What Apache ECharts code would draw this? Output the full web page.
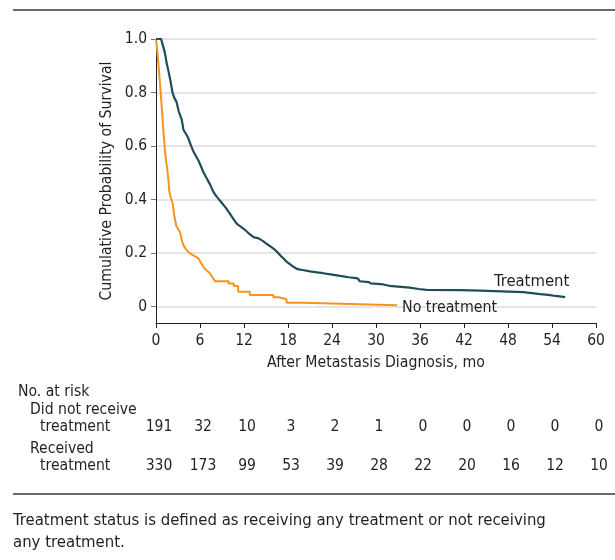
<!DOCTYPE html>
<html>
<head>
<meta charset="utf-8">
<script src="https://cdn.jsdelivr.net/npm/echarts@6/dist/echarts.min.js"></script>
<style>
  html, body { margin: 0; padding: 0; background: #fff; }
  #chart { width: 615px; height: 560px; }
</style>
</head>
<body>
<div id="chart"></div>
<script>
// survival curves (months, probability)
// repeated times are the corners of visible steps
var treatTime = [0, 0.7, 0.9, 1.2, 1.45, 1.7, 2.0, 2.25, 2.5, 2.8, 3.1, 3.5, 3.75, 4.1, 4.4, 4.8, 5.1, 5.5, 5.8, 6.2, 6.5, 7.0, 7.4, 7.8, 8.3, 8.9, 9.5, 10.0, 10.5, 11.0, 11.5, 12.0, 12.6, 13.3, 14.0, 14.6, 15.1, 15.6, 16.1, 16.5, 17.0, 17.4, 17.8, 18.3, 18.8, 19.3, 20.0, 21.0, 22.0, 22.8, 24.0, 25.1, 26.3, 27.5, 27.8, 29.0, 29.3, 31.0, 31.8, 33.0, 34.6, 35.8, 36.9, 41.5, 44.2, 44.4, 50.1, 50.3, 52.4, 53.5, 54.5, 55.8]
var treatSurv = [1, 1, 0.98, 0.95, 0.91, 0.88, 0.84, 0.80, 0.78, 0.765, 0.73, 0.70, 0.66, 0.645, 0.63, 0.60, 0.58, 0.56, 0.545, 0.52, 0.50, 0.475, 0.455, 0.43, 0.41, 0.39, 0.37, 0.35, 0.33, 0.31, 0.30, 0.29, 0.275, 0.26, 0.255, 0.245, 0.235, 0.225, 0.215, 0.205, 0.19, 0.18, 0.168, 0.158, 0.148, 0.14, 0.137, 0.132, 0.128, 0.125, 0.12, 0.115, 0.11, 0.106, 0.095, 0.092, 0.087, 0.083, 0.078, 0.075, 0.071, 0.066, 0.063, 0.062, 0.06, 0.055, 0.054, 0.05, 0.047, 0.044, 0.04, 0.036]

var noTreatTime = [0, 0.15, 0.32, 0.5, 0.68, 0.85, 1.0, 1.12, 1.23, 1.4, 1.55, 1.7, 1.82, 2.0, 2.27, 2.5, 2.73, 3.0, 3.27, 3.5, 3.73, 4.2, 4.64, 5.2, 5.77, 6.1, 6.45, 6.9, 7.36, 7.7, 8.05, 9.9, 9.9, 10.6, 10.6, 11.2, 11.2, 12.8, 12.8, 16.0, 16.0, 16.7, 16.7, 17.8, 17.8, 20.1, 20.1, 27.8, 27.8, 32.9]
var noTreatSurv = [1, 0.96, 0.91, 0.85, 0.784, 0.72, 0.66, 0.62, 0.58, 0.54, 0.51, 0.47, 0.43, 0.41, 0.386, 0.34, 0.305, 0.29, 0.28, 0.25, 0.23, 0.21, 0.199, 0.19, 0.181, 0.165, 0.149, 0.135, 0.125, 0.11, 0.095, 0.095, 0.087, 0.087, 0.077, 0.077, 0.056, 0.056, 0.044, 0.044, 0.035, 0.035, 0.028, 0.028, 0.015, 0.015, 0.009, 0.009, 0.005, 0.005]

// x ticks and numbers at risk
var months = [0, 6, 12, 18, 24, 30, 36, 42, 48, 54, 60]
var yTicks = [0, 0.2, 0.4, 0.6, 0.8, 1.0]
var riskNoTreat = [191, 32, 10, 3, 2, 1, 0, 0, 0, 0, 0]
var riskTreat = [330, 173, 99, 53, 39, 28, 22, 20, 16, 12, 10]

var FONT = "'DejaVu Sans Condensed', 'Liberation Sans', sans-serif"
var TEXT = '#231f20'
var TEAL = '#1f4d59'
var ORANGE = '#f7941d'

function pairs(xs, ys) {
  return xs.map(function (x, i) { return [x, ys[i]] })
}

var chart = echarts.init(document.getElementById('chart'))

var option = {
  animation: false,
  textStyle: { fontFamily: FONT },
  grid: { left: 156, right: 19, top: 39, bottom: 237 },
  xAxis: {
    type: 'value',
    min: 0,
    max: 60,
    interval: 6,
    name: 'After Metastasis Diagnosis, mo',
    nameLocation: 'middle',
    nameGap: 32,
    nameTextStyle: { fontFamily: FONT, fontSize: 15.7, color: TEXT },
    axisLine: { show: true, onZero: false, lineStyle: { color: '#231f20', width: 1 } },
    axisTick: { show: true, length: 5, lineStyle: { color: '#231f20' } },
    axisLabel: { fontFamily: FONT, fontSize: 15.5, color: TEXT, margin: 10 },
    splitLine: { show: false }
  },
  yAxis: {
    type: 'value',
    min: -0.061,
    max: 1,
    axisLine: { show: true, lineStyle: { color: '#231f20', width: 1 } },
    axisTick: { show: true, length: 5, customValues: yTicks, lineStyle: { color: '#777' } },
    axisLabel: {
      customValues: yTicks,
      fontFamily: FONT, fontSize: 15.5, color: TEXT, margin: 9,
      formatter: function (v) { return v === 0 ? '0' : v.toFixed(1) }
    },
    splitLine: { show: true, lineStyle: { color: '#dcdcdc', width: 1.5 } }
  },
  series: [
    {
      name: 'No treatment',
      type: 'line',
      symbol: 'none',
      data: pairs(noTreatTime, noTreatSurv),
      lineStyle: { color: ORANGE, width: 2 }
    },
    {
      name: 'Treatment',
      type: 'line',
      symbol: 'none',
      data: pairs(treatTime, treatSurv),
      lineStyle: { color: TEAL, width: 2.2 }
    }
  ]
}

chart.setOption(option)

// annotations, rules, risk table and caption
var g = [
  { type: 'line', shape: { x1: 13, y1: 10, x2: 615, y2: 10 }, style: { stroke: '#3a3a3a', lineWidth: 1.5 } },
  { type: 'line', shape: { x1: 13, y1: 494, x2: 615, y2: 494 }, style: { stroke: '#3a3a3a', lineWidth: 1.5 } },
  {
    type: 'text', x: 107, y: 181, rotation: Math.PI / 2,
    style: { text: 'Cumulative Probability of Survival', font: '15.7px ' + FONT, fill: TEXT, textAlign: 'center', textVerticalAlign: 'middle' }
  },
  { type: 'text', x: 494, y: 282, style: { text: 'Treatment', font: '16.5px ' + FONT, fill: TEXT, textVerticalAlign: 'middle' } },
  { type: 'text', x: 402, y: 308, style: { text: 'No treatment', font: '15.8px ' + FONT, fill: TEXT, textVerticalAlign: 'middle' } },
  { type: 'text', x: 18, y: 392, style: { text: 'No. at risk', font: '15.6px ' + FONT, fill: TEXT, textVerticalAlign: 'middle' } },
  { type: 'text', x: 30, y: 410, style: { text: 'Did not receive', font: '15.6px ' + FONT, fill: TEXT, textVerticalAlign: 'middle' } },
  { type: 'text', x: 40, y: 427, style: { text: 'treatment', font: '15.6px ' + FONT, fill: TEXT, textVerticalAlign: 'middle' } },
  { type: 'text', x: 30, y: 449, style: { text: 'Received', font: '15.6px ' + FONT, fill: TEXT, textVerticalAlign: 'middle' } },
  { type: 'text', x: 40, y: 466, style: { text: 'treatment', font: '15.6px ' + FONT, fill: TEXT, textVerticalAlign: 'middle' } },
  { type: 'text', x: 13, y: 521, style: { text: 'Treatment status is defined as receiving any treatment or not receiving', font: '16.6px ' + FONT, fill: TEXT, textVerticalAlign: 'middle' } },
  { type: 'text', x: 13, y: 543, style: { text: 'any treatment.', font: '16.6px ' + FONT, fill: TEXT, textVerticalAlign: 'middle' } }
]

months.forEach(function (m, i) {
  var px = chart.convertToPixel({ xAxisIndex: 0 }, m) + 3
  g.push({ type: 'text', x: px, y: 427, style: { text: String(riskNoTreat[i]), font: '15.5px ' + FONT, fill: TEXT, textAlign: 'center', textVerticalAlign: 'middle' } })
  g.push({ type: 'text', x: px, y: 466, style: { text: String(riskTreat[i]), font: '15.5px ' + FONT, fill: TEXT, textAlign: 'center', textVerticalAlign: 'middle' } })
})

chart.setOption({ graphic: g })
</script>
</body>
</html>
